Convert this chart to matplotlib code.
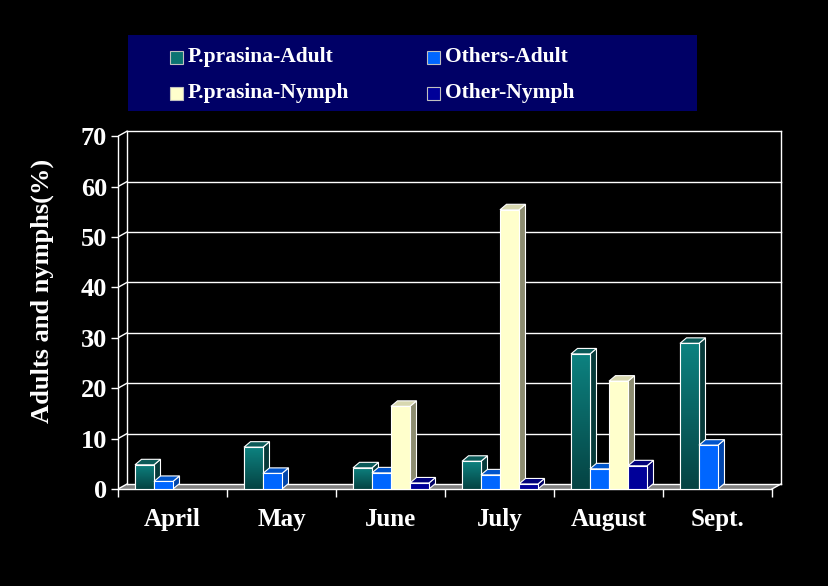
import numpy as np
import matplotlib
matplotlib.use("Agg")
import matplotlib.pyplot as plt
from matplotlib.patches import Polygon, Rectangle
from matplotlib.colors import LinearSegmentedColormap

# ---- data ----
months = ["April", "May", "June", "July", "August", "Sept."]
series_names = ["P.prasina-Adult", "Others-Adult", "P.prasina-Nymph", "Other-Nymph"]
pp_adult = [4.8, 8.3, 4.2, 5.5, 26.8, 28.9]
oth_adult = [1.5, 3.1, 3.2, 2.8, 4.0, 8.7]
pp_nymph = [0, 0, 16.4, 55.4, 21.4, 0]
oth_nymph = [0, 0, 1.2, 1.0, 4.6, 0]
yticks = [0, 10, 20, 30, 40, 50, 60, 70]

series = [pp_adult, oth_adult, pp_nymph, oth_nymph]
front_cols = ["#0b7472", "#0066ff", "#ffffcc", "#000099"]
side_cols = ["#073a3a", "#0044aa", "#8c8c70", "#000066"]
top_cols = ["#0b5a58", "#0055cc", "#d8d8b0", "#00007a"]

W, H = 829, 586
fig = plt.figure(figsize=(W / 100, H / 100), dpi=100, facecolor="black")

# axes geometry in pixels
px_x, px_y = 109.0, 5.04
x0_px, y0_px = 118, 489
xmax, ymax = 6.15, 72.0
ax = fig.add_axes([x0_px / W, (H - y0_px) / H, xmax * px_x / W, ymax * px_y / H])
ax.set_facecolor("black")
ax.set_xlim(0, xmax)
ax.set_ylim(0, ymax)

n_cat = len(months)
DX, DY = 9 / px_x, 5 / px_y          # wall/floor depth
bdx, bdy = 6.5 / px_x, 5.5 / px_y    # bar depth
bw = 19 / px_x
start = 17 / px_x
lw = 0.8

# floor
ax.add_patch(Polygon([(0, 0), (n_cat, 0), (n_cat + DX, DY), (DX, DY)],
                     closed=True, facecolor="#808080", edgecolor="none", zorder=1))
# back wall gridlines and edges
for v in yticks:
    ax.plot([DX, n_cat + DX], [v + DY, v + DY], color="white", lw=1.0, zorder=2)
    ax.plot([0, DX], [v, v + DY], color="white", lw=1.0, zorder=2)
ax.plot([DX, DX], [DY, 70 + DY], color="white", lw=1.0, zorder=2)
ax.plot([n_cat + DX, n_cat + DX], [DY, 70 + DY], color="white", lw=1.0, zorder=2)
ax.plot([n_cat, n_cat + DX], [0, DY], color="white", lw=1.0, zorder=2)

teal_cmap = LinearSegmentedColormap.from_list("teal", ["#054343", "#0d8280"])
grad = np.linspace(0, 1, 100).reshape(-1, 1)

z = 3
for i in range(n_cat):
    for j, s in enumerate(series):
        v = s[i]
        if not v:
            continue
        x = i + start + j * bw
        # side face
        ax.add_patch(Polygon([(x + bw, 0), (x + bw + bdx, bdy), (x + bw + bdx, v + bdy), (x + bw, v)],
                             closed=True, facecolor=side_cols[j], edgecolor="white", lw=lw, zorder=z))
        # top face
        ax.add_patch(Polygon([(x, v), (x + bw, v), (x + bw + bdx, v + bdy), (x + bdx, v + bdy)],
                             closed=True, facecolor=top_cols[j], edgecolor="white", lw=lw, zorder=z))
        # front face
        bars = ax.bar(x, v, width=bw, align="edge", color=front_cols[j],
                      edgecolor="white", linewidth=lw, zorder=z + 0.5)
        if j == 0:
            im = ax.imshow(grad, extent=[x, x + bw, 0, v], origin="lower", cmap=teal_cmap,
                           aspect="auto", zorder=z + 0.6)
            im.set_clip_path(bars[0])
            ax.add_patch(Rectangle((x, 0), bw, v, facecolor="none", edgecolor="white",
                                   lw=lw, zorder=z + 0.7))
        z += 1

ax.set_xlim(0, xmax)
ax.set_ylim(0, ymax)

# spines and ticks
for sp in ["top", "right"]:
    ax.spines[sp].set_visible(False)
ax.spines["left"].set_color("white")
ax.spines["left"].set_bounds(0, 70)
ax.spines["bottom"].set_color("white")
ax.spines["bottom"].set_bounds(0, n_cat)
ax.spines["left"].set_linewidth(1.0)
ax.spines["bottom"].set_linewidth(1.0)

serif = ["Liberation Serif", "DejaVu Serif"]
ax.set_yticks(yticks)
ax.set_yticklabels([str(t) for t in yticks], fontsize=19, fontweight="bold",
                   family=serif, color="white")
ax.tick_params(axis="y", colors="white", length=5, width=1.0, pad=3)
ax.set_xticks(range(n_cat + 1))
ax.set_xticklabels([])
ax.tick_params(axis="x", which="major", colors="white", length=6, width=1.0)
ax.set_xticks([i + 0.5 for i in range(n_cat)], minor=True)
ax.set_xticklabels(months, minor=True, fontsize=18, fontweight="bold",
                   family=serif, color="white")
ax.tick_params(axis="x", which="minor", length=0, pad=14)

# y label
fig.text(42 / W, 1 - 291 / H, "Adults and nymphs(%)", rotation=90, ha="center", va="center",
         fontsize=19, fontweight="bold", family=serif, color="white")

# legend box
fig.patches.append(Rectangle((128 / W, 1 - 111 / H), (697 - 128) / W, 76 / H,
                             transform=fig.transFigure, facecolor="#000066",
                             edgecolor="none", zorder=0))
leg_pos = [(170, 57), (427, 57), (170, 93), (427, 93)]
leg_order = [0, 1, 2, 3]
for (lx, ly), j in zip(leg_pos, leg_order):
    sq = 13
    fig.patches.append(Rectangle((lx / W, 1 - (ly + sq / 2) / H), sq / W, sq / H,
                                 transform=fig.transFigure, facecolor=front_cols[j],
                                 edgecolor="#c0c0c0", lw=0.8, zorder=1))
    fig.text((lx + sq + 5) / W, 1 - ly / H, series_names[j], ha="left", va="center",
             fontsize=15.5, fontweight="bold", family=serif, color="white")

fig.savefig("out.png", dpi=100, facecolor="black")
